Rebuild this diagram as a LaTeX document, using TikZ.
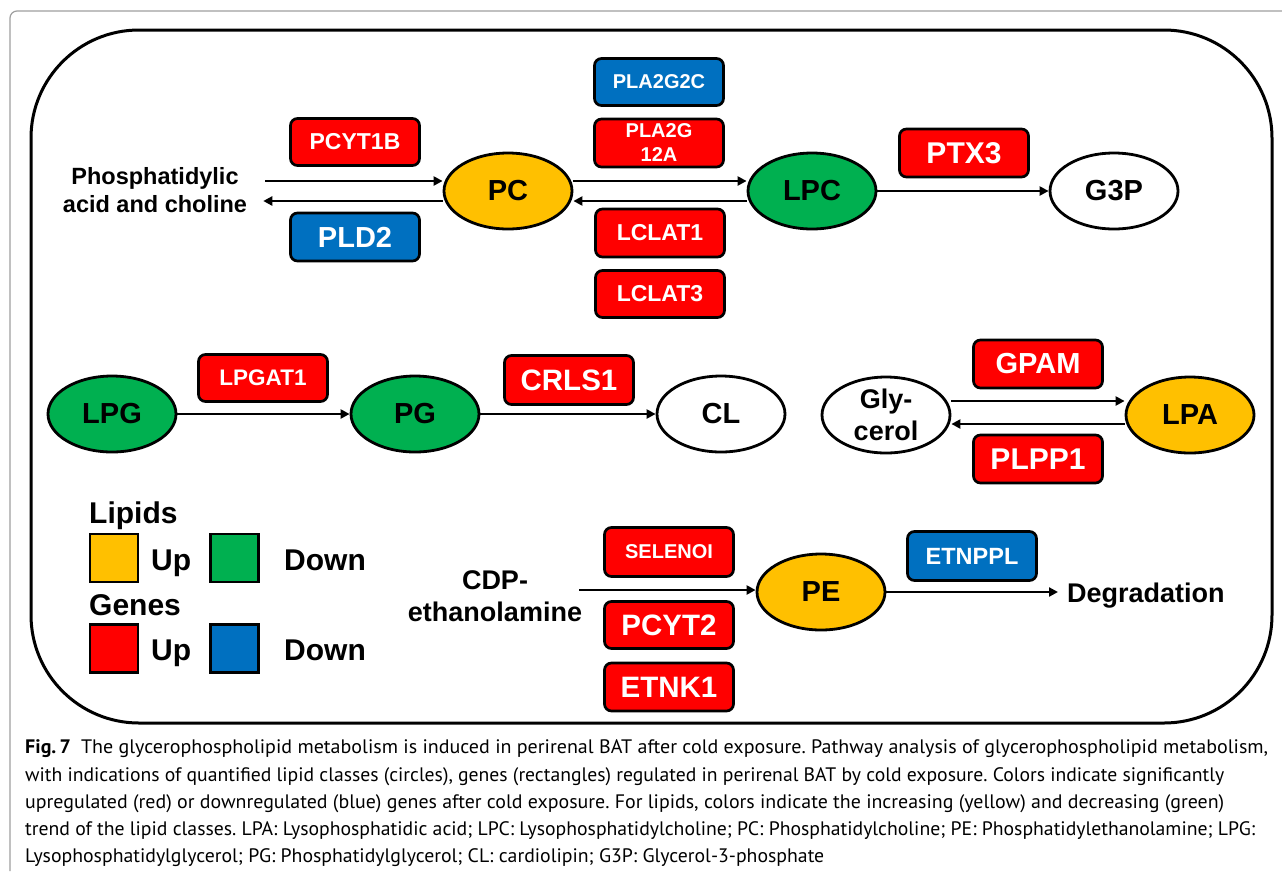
\documentclass[tikz,border=0pt]{standalone}
\usepackage{fontspec}
\usepackage{graphicx}
\setmainfont{Liberation Sans}
\newfontfamily\capfont{PT Sans}
\usetikzlibrary{shapes.geometric,arrows.meta,calc}
\definecolor{gred}{HTML}{FF0000}
\definecolor{gblue}{HTML}{0070C0}
\definecolor{lyel}{HTML}{FFC000}
\definecolor{lgrn}{HTML}{00B050}
\frenchspacing
\newcommand\fsz[2]{\fontsize{#1}{#2}\selectfont\bfseries}
\newcommand\capline[2]{\resizebox{#1}{\height}{\capfont\fontsize{19.5}{19.5}\selectfont #2}}
\begin{document}
\begin{tikzpicture}[x=1pt,y=-1pt,
  gene/.style={draw=black, line width=2.7pt, rounded corners=7pt, minimum width=129pt, minimum height=47pt, inner sep=0pt, text=white, align=center},
  up/.style={gene, fill=gred},
  down/.style={gene, fill=gblue},
  lipid/.style={ellipse, draw=black, line width=2.8pt, minimum width=128pt, minimum height=76pt, inner sep=0pt, align=center, font=\fsz{29}{29}},
  arr/.style={line width=2.8pt, -{Triangle[length=9pt,width=9pt]}},
  lbl/.style={inner sep=0pt, align=center},
  leg/.style={draw=black, line width=2.7pt, minimum size=48pt, inner sep=0pt},
]
\useasboundingbox (0,0) rectangle (1282,871);
\fill[white] (0,0) rectangle (1282,871);
\draw[gray!75, line width=1.2pt, rounded corners=7pt] (10,871) -- (10,11) -- (1282,11);
\draw[line width=3pt, rounded corners=108pt] (31,30) rectangle (1272,723);

% ---- row 1
\node[lbl, font=\fsz{23.5}{28}] (pa) at (155,190.5) {Phosphatidylic\\acid and choline};
\node[up, font=\fsz{23}{23}] (pcyt1b) at (355,142) {PCYT1B};
\node[down, font=\fsz{29}{29}, minimum height=48pt] (pld2) at (355,237) {PLD2};
\node[lipid, fill=lyel] (pc) at (508,191) {PC};
\node[down, font=\fsz{20}{20}] (pla2g2c) at (659,82) {PLA2G2C};
\node[up, font=\fsz{20}{24}, minimum height=48pt] (pla2g12a) at (659,143) {PLA2G\\12A};
\node[up, font=\fsz{23}{23}, minimum height=48pt] (lclat1) at (660,233) {LCLAT1};
\node[up, font=\fsz{23}{23}] (lclat3) at (660,294) {LCLAT3};
\node[lipid, fill=lgrn] (lpc) at (812,191) {LPC};
\node[up, font=\fsz{30}{30}, minimum height=48pt] (ptx3) at (964,153) {PTX3};
\node[lipid, fill=white] (g3p) at (1114,191) {G3P};

\draw[arr] ([xshift=18pt,yshift=9.5pt]pa.east) -- ([yshift=10pt]pc.west);
\draw[arr] ([yshift=-10pt]pc.west) -- ([xshift=16pt,yshift=-10.5pt]pa.east);
\draw[arr] ([yshift=10pt]pc.east) -- ([yshift=10pt]lpc.west);
\draw[arr] ([yshift=-10pt]lpc.west) -- ([yshift=-10pt]pc.east);
\draw[arr] (lpc) -- (g3p);

% ---- row 2
\node[lipid, fill=lgrn] (lpg) at (112,414) {LPG};
\node[up, font=\fsz{22.5}{22.5}] (lpgat1) at (263,378) {LPGAT1};
\node[lipid, fill=lgrn] (pg) at (415,414) {PG};
\node[up, font=\fsz{29.5}{29.5}, minimum height=49pt] (crls1) at (569,380) {CRLS1};
\node[lipid, fill=white] (cl) at (721,414) {CL};
\draw[arr] (lpg) -- (pg);
\draw[arr] (pg) -- (cl);

\node[lipid, fill=white, font=\fsz{27}{32}] (gly) at (886,415) {Gly-\\cerol};
\node[up, font=\fsz{29}{29}, minimum height=48pt] (gpam) at (1038,364) {GPAM};
\node[up, font=\fsz{30}{30}, minimum height=48pt] (plpp1) at (1038,459) {PLPP1};
\node[lipid, fill=lyel] (lpa) at (1190,415) {LPA};
\draw[arr] ([yshift=14pt]gly.east) -- ([yshift=14pt]lpa.west);
\draw[arr] ([yshift=-9pt]lpa.west) -- ([yshift=-9pt]gly.east);

% ---- row 3
\node[lbl, font=\fsz{27}{32}] (cdp) at (495,596.5) {CDP-\\ethanolamine};
\coordinate (cdpR) at ($(cdp.east)+(-3,-6.5)$);
\node[up, font=\fsz{20}{20}, minimum height=49pt] (selenoi) at (669,552) {SELENOI};
\node[up, font=\fsz{29.5}{29.5}] (pcyt2) at (669,625) {PCYT2};
\node[up, font=\fsz{29.5}{29.5}, minimum height=48pt] (etnk1) at (669,687) {ETNK1};
\node[lipid, fill=lyel] (pe) at (821,592) {PE};
\node[down, font=\fsz{23.5}{23.5}, minimum height=49pt] (etnppl) at (972,556) {ETNPPL};
\node[lbl, font=\fsz{27}{27}, anchor=base west, inner xsep=9pt] (deg) at (1058,602) {Degradation};
\draw[arr] (cdpR) -- ([yshift=2pt]pe.west);
\draw[arr] (pe.east) -- (pe.east -| deg.west);

% ---- legend
\node[lbl, anchor=base west, font=\fsz{30}{30}] (tlip) at (89,523) {Lipids};
\node[leg, fill=lyel] (kly) at (114,558) {};
\node[lbl, anchor=base west, font=\fsz{30}{30}] (tlu) at (151,570) {Up};
\node[leg, fill=lgrn] (klg) at (234.5,558) {};
\node[lbl, anchor=base west, font=\fsz{30}{30}] (tld) at (284,570) {Down};
\node[lbl, anchor=base west, font=\fsz{30}{30}] (tgen) at (89,615) {Genes};
\node[leg, fill=gred] (kgr) at (114,648.5) {};
\node[lbl, anchor=base west, font=\fsz{30}{30}] (tgu) at (151,660) {Up};
\node[leg, fill=gblue] (kgb) at (234.5,648.5) {};
\node[lbl, anchor=base west, font=\fsz{30}{30}] (tgd) at (284,660) {Down};

% ---- caption
\node[anchor=base west, inner sep=0pt] (c1) at (25,753) {\capline{1243pt}{{\bfseries Fig.\,7}\hspace{0.5em}The glycerophospholipid metabolism is induced in perirenal BAT after cold exposure. Pathway analysis of glycerophospholipid metabolism,}};
\node[anchor=base west, inner sep=0pt] (c2) at (25,781) {\capline{1199pt}{with indications of quantified lipid classes (circles), genes (rectangles) regulated in perirenal BAT by cold exposure. Colors indicate significantly}};
\node[anchor=base west, inner sep=0pt] (c3) at (25,808) {\capline{1199pt}{upregulated (red) or downregulated (blue) genes after cold exposure. For lipids, colors indicate the increasing (yellow) and decreasing (green)}};
\node[anchor=base west, inner sep=0pt] (c4) at (25,835) {\capline{1230pt}{trend of the lipid classes. LPA: Lysophosphatidic acid; LPC: Lysophosphatidylcholine; PC: Phosphatidylcholine; PE: Phosphatidylethanolamine; LPG:}};
\node[anchor=base west, inner sep=0pt] (c5) at (25,862) {\capline{799pt}{Lysophosphatidylglycerol; PG: Phosphatidylglycerol; CL: cardiolipin; G3P: Glycerol-3-phosphate}};
\end{tikzpicture}
\end{document}
